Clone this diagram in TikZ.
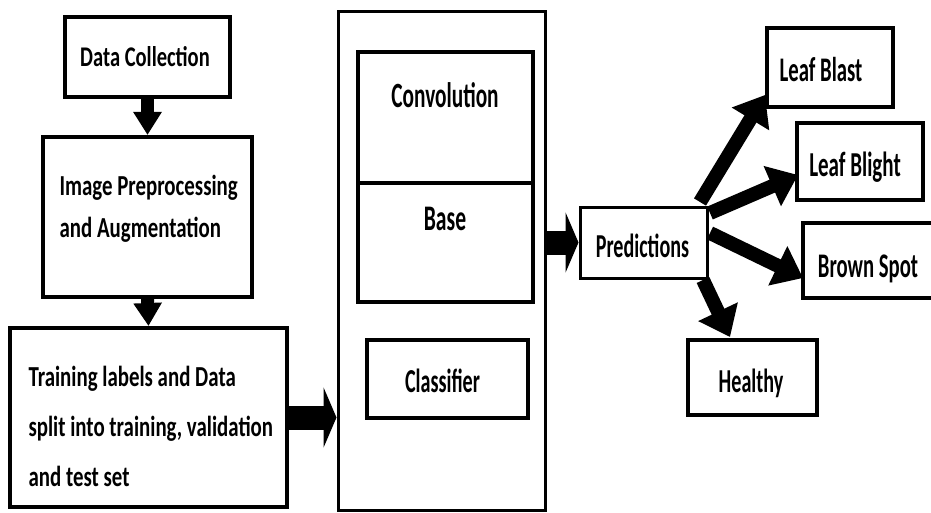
\documentclass[tikz,border=0pt]{standalone}
\usepackage{fontspec}
\setmainfont{Carlito}[FakeStretch=0.6]
\newfontfamily\leftfont{Carlito}[FakeStretch=0.72]
\usetikzlibrary{arrows.meta,positioning}

\tikzset{
  box/.style={draw, rectangle, line width=4pt, inner sep=0pt},
  thinbox/.style={box, line width=3pt},
  boxtext/.style={inner sep=0pt, anchor=base},
  downarrow/.style={line width=13pt, -{Triangle[length=23pt,width=27pt]}},
  fatarrow/.style={line width=24pt, -{Triangle[length=13pt,width=60pt]}},
  branch/.style={line width=14pt, -{Triangle[length=28pt,width=42pt]}},
}

\begin{document}
\begin{tikzpicture}[x=1pt,y=-1pt]
		\newcommand{\myfontbox}[1]{
			\bfseries\fontsize{#1}{#1}\selectfont
		}
		\newcommand{\myfontleft}[2]{
			\leftfont\bfseries\fontsize{#1}{#2}\selectfont
		}
		\useasboundingbox (0,0) rectangle (931,513);
		%Left column
		\node [box, minimum width=165pt, minimum height=80pt] (collect) at (147.5,57) {};
		\node [boxtext] (collecttext) at (145,67) {\myfontleft{28.5}{28.5}Data Collection};
		\node [box, minimum width=209pt, minimum height=160pt] (prep) at (147.5,217) {};
		\node [boxtext, anchor=west, align=left, font=\myfontleft{29}{42}] (preptext) at (58,209)
			{Image Preprocessing\\and Augmentation};
		\node [box, minimum width=277pt, minimum height=179pt] (train) at (148.5,417.5) {};
		\node [boxtext, anchor=west, align=left, font=\myfontleft{29}{50}] (traintext) at (27,426)
			{Training labels and Data\\split into training, validation\\and test set};
		%The network
		\node [thinbox, minimum width=207pt, minimum height=498pt] (cnn) at (441.5,261) {};
		\node [box, minimum width=175pt, minimum height=131pt] (conv) at (445.5,117.5) {};
		\node [boxtext] (convtext) at (445,108) {\myfontbox{35.5}Convolution};
		\node [box, minimum width=175pt, minimum height=119pt] (base) at (445.5,242.5) {};
		\node [boxtext] (basetext) at (445,230) {\myfontbox{36}Base};
		\node [box, minimum width=161pt, minimum height=78pt] (clf) at (447.5,379) {};
		\node [boxtext] (clftext) at (442.5,392) {\myfontbox{33.5}Classifier};
		%Predictions and the classes
		\node [thinbox, minimum width=127pt, minimum height=71pt] (pred) at (643.5,242.5) {};
		\node [boxtext] (predtext) at (642.5,257) {\myfontbox{33.5}Predictions};
		\node [box, minimum width=126pt, minimum height=79pt] (blast) at (830,67.5) {};
		\node [boxtext] (blasttext) at (821,82) {\myfontbox{34.5}Leaf Blast};
		\node [box, minimum width=126pt, minimum height=77pt] (blight) at (860,161.5) {};
		\node [boxtext] (blighttext) at (855,177) {\myfontbox{35}Leaf Blight};
		\node [box, minimum width=132pt, minimum height=75pt] (brown) at (869,260.5) {};
		\node [boxtext] (browntext) at (868,277) {\myfontbox{34.5}Brown Spot};
		\node [box, minimum width=129pt, minimum height=75pt] (healthy) at (752.5,377.5) {};
		\node [boxtext] (healthytext) at (751,392) {\myfontbox{33.5}Healthy};
		%Arrows
		\coordinate (cnnin) at (cnn.west |- train.east);
		\coordinate (cnnout) at (cnn.east |- pred.west);
		\coordinate (predne) at (700,202);
		\coordinate (prede1) at (710,213);
		\coordinate (prede2) at (710,233);
		\coordinate (predse) at (703,280);
		\coordinate (blastin) at (765,95);
		\coordinate (blightin) at (798,175);
		\coordinate (brownin) at (803,278);
		\coordinate (healthyin) at (730,337);
		\draw [downarrow] (collect.south) -- (prep.north);
		\draw [downarrow] (prep.south) -- (train.north);
		\draw [fatarrow] (train.east) -- (cnnin);
		\draw [fatarrow] (cnnout) -- (pred.west);
		\draw [branch] (predne) -- (blastin);
		\draw [branch] (prede1) -- (blightin);
		\draw [branch] (prede2) -- (brownin);
		\draw [branch] (predse) -- (healthyin);
\end{tikzpicture}
\end{document}
